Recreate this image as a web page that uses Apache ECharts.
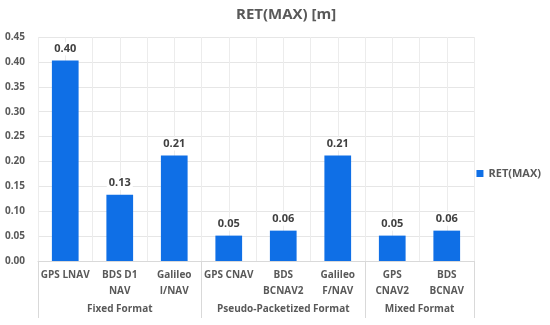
<!DOCTYPE html>
<html><head><meta charset="utf-8">
<script src="https://cdn.jsdelivr.net/npm/echarts@6/dist/echarts.min.js"></script>
<style>html,body{margin:0;padding:0;background:#fff}#c{width:550px;height:325px}</style>
</head><body><div id="c"></div>
<script>
const categories = ['GPS LNAV', 'BDS D1\nNAV', 'Galileo\nI/NAV', 'GPS CNAV', 'BDS\nBCNAV2', 'Galileo\nF/NAV', 'GPS\nCNAV2', 'BDS\nBCNAV'];
const values = [0.403, 0.133, 0.212, 0.051, 0.061, 0.212, 0.051, 0.061];
const groupNames = ['Fixed Format', 'Pseudo-Packetized Format', 'Mixed Format'];
const groupCenters = [1.5, 4.5, 7];
const groupBounds = [0, 3, 6, 8];
const seriesName = 'RET(MAX)';
const titleText = 'RET(MAX) [m]';

const font = 'Open Sans';
const txt = '#595959';
const chart = echarts.init(document.getElementById('c'));
chart.setOption({
  animation: false,
  title: { text: titleText, left: 231, top: 2,
    textStyle: { fontFamily: font, fontSize: 15, fontWeight: 'bold', color: txt } },
  legend: { right: 4, top: 163, orient: 'vertical', icon: 'rect', itemWidth: 7, itemHeight: 7, itemGap: 4,
    data: [seriesName], textStyle: { fontFamily: font, fontSize: 11, fontWeight: 'bold', color: txt } },
  grid: { left: 38, right: 76, top: 37, bottom: 64 },
  xAxis: [
    { type: 'category', data: categories, position: 'bottom',
      axisLine: { show: true, lineStyle: { color: '#d9d9d9' } },
      axisTick: { show: false }, splitLine: { show: false },
      axisLabel: { interval: 0, margin: 6, fontFamily: font, fontSize: 10, fontWeight: 'bold', color: txt, lineHeight: 16 } },
    { type: 'value', min: 0, max: 8, interval: 0.5, position: 'bottom',
      axisLine: { show: false }, axisTick: { show: false }, axisLabel: { show: false },
      splitLine: { show: true, lineStyle: { color: '#ececec' } } },
    { type: 'value', min: 0, max: 8, position: 'bottom',
      axisLine: { show: false }, splitLine: { show: false },
      axisTick: { show: true, length: 57, customValues: groupBounds, lineStyle: { color: '#d9d9d9' } },
      axisLabel: { show: true, margin: 43, customValues: groupCenters, fontFamily: font, fontSize: 10, fontWeight: 'bold', color: txt,
        formatter: function (v) { const i = groupCenters.indexOf(v); return i >= 0 ? groupNames[i] : ''; } } }
  ],
  yAxis: { type: 'value', min: 0, max: 0.45, interval: 0.05,
    axisLine: { show: false }, axisTick: { show: false },
    splitLine: { lineStyle: { color: '#e6e6e6' } },
    axisLabel: { margin: 13, fontFamily: font, fontSize: 10, fontWeight: 'bold', color: txt,
      formatter: function (v) { return v.toFixed(2); } } },
  series: [{ name: seriesName, type: 'bar', xAxisIndex: 0, data: values, barWidth: '49%',
    itemStyle: { color: '#0f6fe6' },
    label: { show: true, position: 'top', distance: 5, fontFamily: font, fontSize: 11, fontWeight: 'bold', color: '#404040',
      backgroundColor: '#fff', padding: [1, 2],
      formatter: function (p) { return p.value.toFixed(2); } } }]
});
</script></body></html>
